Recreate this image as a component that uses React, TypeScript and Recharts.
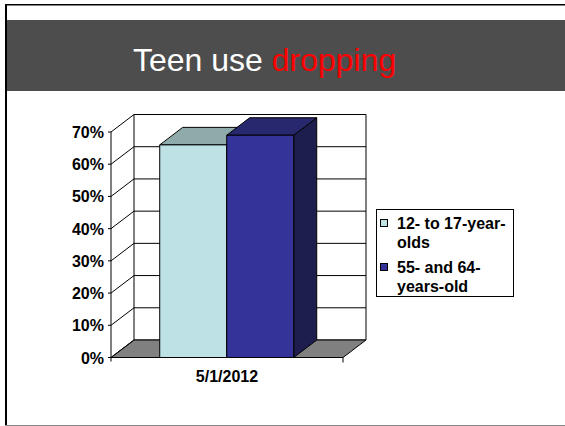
import React from "react";
import {
  BarChart,
  Bar,
  XAxis,
  YAxis,
  CartesianGrid,
  Legend,
  Customized,
} from "recharts";

const categories = ["5/1/2012"];
const teenValues = [66];
const adultValues = [69];
const seriesNames = ["12- to 17-year-olds", "55- and 64-years-old"];
const yTicks = [0, 10, 20, 30, 40, 50, 60, 70];

const data = categories.map((date, i) => ({
  date,
  teens: teenValues[i],
  adults: adultValues[i],
}));

// back-wall plot area and 3d depth offset
const PLOT_LEFT = 134;
const PLOT_RIGHT = 366;
const PLOT_TOP = 114.5;
const PLOT_BOTTOM = 340;
const DX = 23;
const DY = 17.5;

const FONT = "'Liberation Sans', Arial, sans-serif";

const Box3D = (props: any) => {
  const { x, y, width, height, fill, topFill, sideFill } = props;
  if (!height || height <= 0) return null;
  const fx = x - DX;
  const fy = y + DY;
  return (
    <g stroke="#000" strokeWidth={1} strokeLinejoin="round">
      <polygon
        points={`${fx + width},${fy} ${x + width},${y} ${x + width},${y + height} ${fx + width},${fy + height}`}
        fill={sideFill}
      />
      <polygon
        points={`${fx},${fy} ${fx + width},${fy} ${x + width},${y} ${x},${y}`}
        fill={topFill}
      />
      <rect x={fx} y={fy} width={width} height={height} fill={fill} />
    </g>
  );
};

const Floor = () => (
  <g stroke="#000" strokeWidth={1}>
    <polygon
      points={`${PLOT_LEFT},${PLOT_BOTTOM} ${PLOT_RIGHT},${PLOT_BOTTOM} ${PLOT_RIGHT - DX},${PLOT_BOTTOM + DY} ${PLOT_LEFT - DX},${PLOT_BOTTOM + DY}`}
      fill="#808080"
    />
    <line
      x1={PLOT_LEFT - DX}
      y1={PLOT_TOP + DY}
      x2={PLOT_LEFT - DX}
      y2={PLOT_BOTTOM + DY}
    />
    <line
      x1={PLOT_LEFT - DX}
      y1={PLOT_BOTTOM + DY}
      x2={PLOT_LEFT - DX}
      y2={PLOT_BOTTOM + DY + 4}
    />
    <line
      x1={PLOT_RIGHT - DX}
      y1={PLOT_BOTTOM + DY}
      x2={PLOT_RIGHT - DX}
      y2={PLOT_BOTTOM + DY + 5}
    />
  </g>
);

const YTick = (props: any) => {
  const { y, payload } = props;
  const fx = PLOT_LEFT - DX;
  return (
    <g>
      <line x1={PLOT_LEFT} y1={y} x2={fx} y2={y + DY} stroke="#000" />
      <line x1={fx - 3} y1={y + DY} x2={fx} y2={y + DY} stroke="#000" />
      <text
        x={fx - 7}
        y={y + DY + 6}
        textAnchor="end"
        fontFamily={FONT}
        fontWeight="bold"
        fontSize={16}
        fill="#000"
      >
        {`${payload.value}%`}
      </text>
    </g>
  );
};

const XTick = (props: any) => {
  const { x, payload } = props;
  return (
    <text
      x={x - DX}
      y={PLOT_BOTTOM + DY + 24}
      textAnchor="middle"
      fontFamily={FONT}
      fontWeight="bold"
      fontSize={16}
      fill="#000"
    >
      {payload.value}
    </text>
  );
};

const LegendBox = (props: any) => {
  const { payload } = props;
  return (
    <div
      style={{
        border: "1px solid #000",
        width: 133,
        height: 82,
        boxSizing: "content-box",
        padding: "4px 0 0 3px",
        background: "#fff",
        fontFamily: FONT,
        fontWeight: "bold",
        fontSize: 16,
        lineHeight: "19px",
        color: "#000",
        textAlign: "left",
      }}
    >
      {(payload || []).map((item: any, i: number) => (
        <div
          key={i}
          style={{ display: "flex", alignItems: "flex-start", marginBottom: 6 }}
        >
          <span
            style={{
              display: "inline-block",
              width: 6,
              height: 6,
              marginTop: 5,
              marginRight: 9,
              border: "1px solid #000",
              background: item.color,
              flex: "none",
            }}
          />
          <span style={{ width: 116 }}>{item.value}</span>
        </div>
      ))}
    </div>
  );
};

export default function App() {
  return (
    <div
      style={{
        position: "absolute",
        left: 0,
        top: 0,
        width: 565,
        height: 426,
        background: "#fff",
        overflow: "hidden",
      }}
    >
      <svg
        width={565}
        height={426}
        style={{ position: "absolute", left: 0, top: 0 }}
      >
        <rect x={5} y={4} width={560} height={1.5} fill="#000" />
        <rect x={5} y={4} width={2} height={422} fill="#000" />
        <rect x={5} y={425} width={560} height={1} fill="#888" />
        <rect x={7} y={20} width={558} height={71} fill="#4d4d4d" />
        <text x={133} y={71} fontFamily={FONT} fontSize={32} fill="#fff">
          Teen use <tspan fill="#ff0000">dropping</tspan>
        </text>
      </svg>
      <div style={{ position: "absolute", left: 0, top: 0 }}>
        <BarChart
          width={565}
          height={426}
          data={data}
          margin={{ top: PLOT_TOP, right: 565 - PLOT_RIGHT, bottom: 426 - PLOT_BOTTOM - 30, left: PLOT_LEFT - 60 }}
          barCategoryGap="21%"
          barGap={0}
        >
          <CartesianGrid
            vertical={true}
            horizontal={true}
            verticalPoints={[PLOT_LEFT, PLOT_RIGHT]}
            stroke="#000"
            strokeDasharray=""
            fill="#fff"
          />
          <Customized component={Floor} />
          <XAxis
            dataKey="date"
            height={30}
            axisLine={false}
            tickLine={false}
            tick={<XTick />}
            interval={0}
          />
          <YAxis
            width={60}
            domain={[0, 70]}
            ticks={yTicks}
            interval={0}
            axisLine={false}
            tickLine={false}
            tick={<YTick />}
          />
          <Legend
            layout="vertical"
            align="center"
            verticalAlign="middle"
            wrapperStyle={{ position: "absolute", left: 376, top: 209, width: 140 }}
            content={<LegendBox />}
          />
          <Bar
            dataKey="teens"
            name={seriesNames[0]}
            fill="#bde1e4"
            isAnimationActive={false}
            shape={(p: any) => <Box3D {...p} topFill="#8eaaaa" sideFill="#7a9c9e" />}
          />
          <Bar
            dataKey="adults"
            name={seriesNames[1]}
            fill="#333399"
            isAnimationActive={false}
            shape={(p: any) => <Box3D {...p} topFill="#28286f" sideFill="#1e1e4e" />}
          />
        </BarChart>
      </div>
    </div>
  );
}
